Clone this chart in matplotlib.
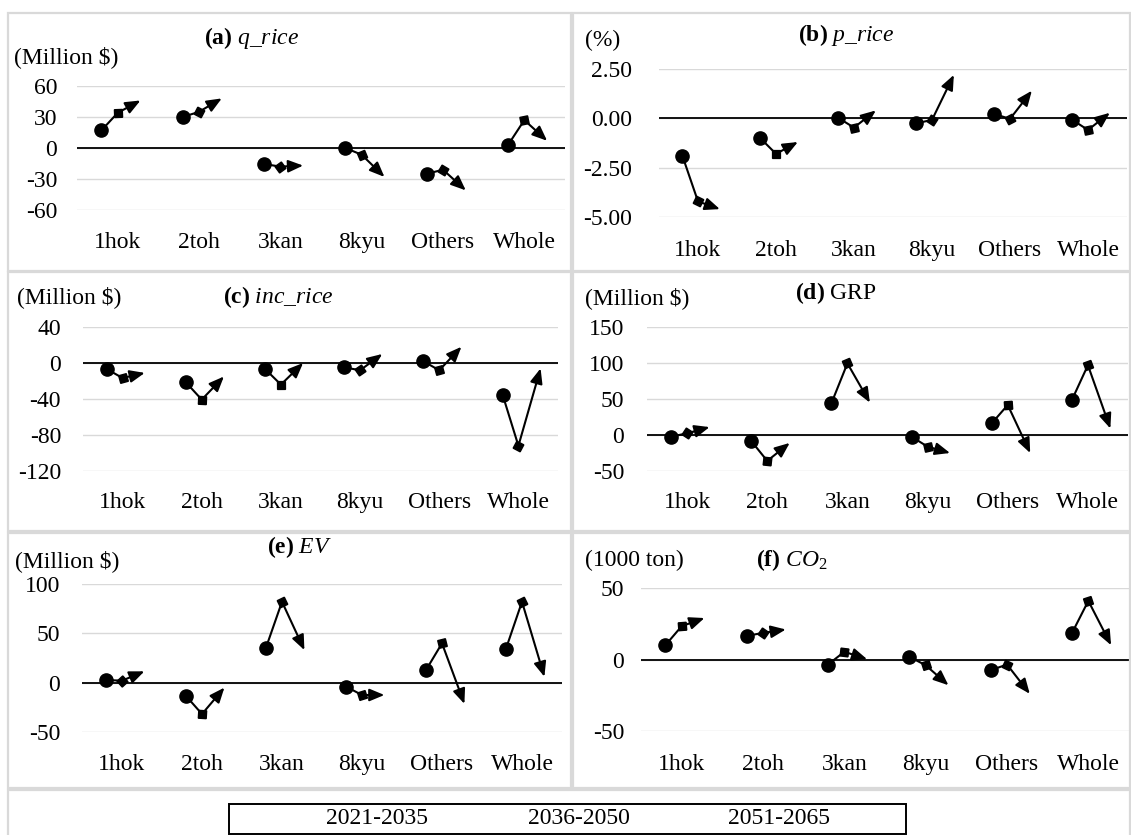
import numpy as np
import matplotlib
matplotlib.use("Agg")
from matplotlib import pyplot as plt
from matplotlib.patches import Rectangle

plt.rcParams['font.family'] = ['Liberation Serif', 'DejaVu Serif']
plt.rcParams['mathtext.fontset'] = 'custom'
plt.rcParams['mathtext.rm'] = 'Liberation Serif'
plt.rcParams['mathtext.it'] = 'Liberation Serif:italic'
plt.rcParams['mathtext.bf'] = 'Liberation Serif:bold'

# data
regions = ["1hok", "2toh", "3kan", "8kyu", "Others", "Whole"]
periods = ["2021-2035", "2036-2050", "2051-2065"]

q_rice_1 = [17, 30, -15.5, 0, -25, 3]
q_rice_2 = [34, 35, -18, -6.5, -21, 27]
q_rice_3 = [46, 48, -17, -28, -41, 7]

p_rice_1 = [-1.90, -1.01, 0.02, -0.25, 0.22, -0.08]
p_rice_2 = [-4.21, -1.80, -0.47, -0.08, -0.03, -0.59]
p_rice_3 = [-4.60, -1.20, 0.40, 2.20, 1.40, 0.28]

inc_rice_1 = [-6.7, -21.5, -6.7, -4.8, 1.9, -35.2]
inc_rice_2 = [-16.7, -40.7, -24, -8.1, -8.1, -92]
inc_rice_3 = [-11, -15, 0, 10, 18, -6]

grp_1 = [-2.3, -8.3, 44, -2.3, 16.2, 48.6]
grp_2 = [2.3, -36, 99.5, -16.2, 41.7, 97]
grp_3 = [11, -11, 45, -25, -25, 9]

ev_1 = [2.7, -13.5, 35.5, -4, 12.8, 34.5]
ev_2 = [2, -31.8, 82, -12.5, 39.9, 82]
ev_3 = [11.5, -5, 33, -12.5, -21.5, 6]

co2_1 = [10, 16.5, -3.5, 1.9, -7.5, 18.6]
co2_2 = [23.3, 18.6, 5.4, -4, -3.5, 41]
co2_3 = [29, 21, 0.2, -18, -24, 10]

W, H = 1131, 835
fig = plt.figure(figsize=(W / 100, H / 100), dpi=100)


def fx(x, y):
    return x / W, 1 - y / H


def add_rect(x0, y0, x1, y1, **kw):
    fig.add_artist(Rectangle((x0 / W, 1 - y1 / H), (x1 - x0) / W, (y1 - y0) / H,
                             transform=fig.transFigure, fill=False, **kw))


# light grey chart frames
for r in [(8, 13, 571, 271), (573, 13, 1130, 271),
          (8, 272, 571, 531), (573, 272, 1130, 531),
          (8, 533, 571, 788), (573, 533, 1130, 788),
          (8, 790, 1130, 840)]:
    add_rect(*r, edgecolor='#d9d9d9', lw=1.6)

# plot box px, ticks, label format, ytick pad px, xtick gap px, titles and units in px
panels = [
    dict(box=(77, 86, 565, 210), ticks=[-60, -30, 0, 30, 60], fmt="{:.0f}", ypad=20, xgap=34,
         title=r'$\mathbf{(a)}\ \mathit{q\_rice}$', tpos=(252, 38), unit="(Million $)", upos=(14, 57),
         data=(q_rice_1, q_rice_2, q_rice_3)),
    dict(box=(659, 69, 1127, 217), ticks=[-5, -2.5, 0, 2.5], fmt="{:.2f}", ypad=27, xgap=35,
         title=r'$\mathbf{(b)}\ \mathit{p\_rice}$', tpos=(846, 35), unit="(%)", upos=(585, 40),
         data=(p_rice_1, p_rice_2, p_rice_3)),
    dict(box=(83, 327, 558, 471), ticks=[-120, -80, -40, 0, 40], fmt="{:.0f}", ypad=22, xgap=33,
         title=r'$\mathbf{(c)}\ \mathit{inc\_rice}$', tpos=(278, 297), unit="(Million $)", upos=(17, 297),
         data=(inc_rice_1, inc_rice_2, inc_rice_3)),
    dict(box=(647, 327, 1128, 471), ticks=[-50, 0, 50, 100, 150], fmt="{:.0f}", ypad=23, xgap=33,
         title=r'$\mathbf{(d)}\ \mathrm{GRP}$', tpos=(836, 293), unit="(Million $)", upos=(585, 298),
         data=(grp_1, grp_2, grp_3)),
    dict(box=(82, 584, 562, 732), ticks=[-50, 0, 50, 100], fmt="{:.0f}", ypad=22, xgap=34,
         title=r'$\mathbf{(e)}\ \mathit{EV}$', tpos=(300, 547), unit="(Million $)", upos=(15, 561),
         data=(ev_1, ev_2, ev_3)),
    dict(box=(641, 588, 1129, 731), ticks=[-50, 0, 50], fmt="{:.0f}", ypad=17, xgap=35,
         title=r'$\mathbf{(f)}\ \mathit{CO}_{\mathit{2}}$', tpos=(792, 560), unit="(1000 ton)", upos=(585, 560),
         data=(co2_1, co2_2, co2_3)),
]

offs = [-0.2, 0.0, 0.28]
x = np.arange(1, len(regions) + 1)
FS = 17

for p in panels:
    x0, y0, x1, y1 = p["box"]
    ax = fig.add_axes([x0 / W, 1 - y1 / H, (x1 - x0) / W, (y1 - y0) / H])
    ax.set_xlim(0.5, 6.5)
    ax.set_ylim(p["ticks"][0], p["ticks"][-1])
    ax.set_yticks(p["ticks"])
    ax.set_yticklabels([p["fmt"].format(t) for t in p["ticks"]], fontsize=FS)
    ax.set_xticks(x)
    ax.set_xticklabels(regions, fontsize=FS)
    ax.tick_params(axis='both', length=0)
    ax.tick_params(axis='y', pad=p["ypad"] / 1.389)
    ax.tick_params(axis='x', pad=(p["xgap"] - 12) / 1.389)
    for s in ax.spines.values():
        s.set_visible(False)
    ax.grid(axis='y', color='#d9d9d9', lw=1.0)
    ax.set_axisbelow(True)
    ax.axhline(0, color='black', lw=1.3, zorder=2)
    ax.patch.set_alpha(0)

    a, b, c = p["data"]
    for i in range(len(regions)):
        xs = x[i] + np.array(offs)
        ys = [a[i], b[i], c[i]]
        ax.plot(xs[:2], ys[:2], color='black', lw=1.5, zorder=3)
        ax.plot(xs[0], ys[0], 'o', color='black', ms=9.5, zorder=4)
        ax.annotate("", xy=(xs[2], ys[2]), xytext=(xs[1], ys[1]),
                    arrowprops=dict(arrowstyle='-|>,head_length=0.6,head_width=0.25',
                                    mutation_scale=15, color='black', lw=1.5,
                                    shrinkA=0, shrinkB=0), zorder=3)
        # diamond end of the first segment, turned along the line
        d0 = ax.transData.transform((xs[0], ys[0]))
        d1 = ax.transData.transform((xs[1], ys[1]))
        ang = np.degrees(np.arctan2(d1[1] - d0[1], d1[0] - d0[0]))
        ax.plot(xs[1], ys[1], marker=(4, 0, ang - 90), color='black', ms=8, zorder=4)

    fig.text(*fx(*p["tpos"]), p["title"], fontsize=FS, ha='center', va='center')
    fig.text(*fx(*p["upos"]), p["unit"], fontsize=FS, ha='left', va='center')

# legend box at the bottom
add_rect(229, 804, 906, 834, edgecolor='black', lw=1.4)
for lab, lx in zip(periods, [326, 528, 728]):
    fig.text(*fx(lx, 819), lab, fontsize=FS, ha='left', va='center')

fig.savefig("out.png", dpi=100)
